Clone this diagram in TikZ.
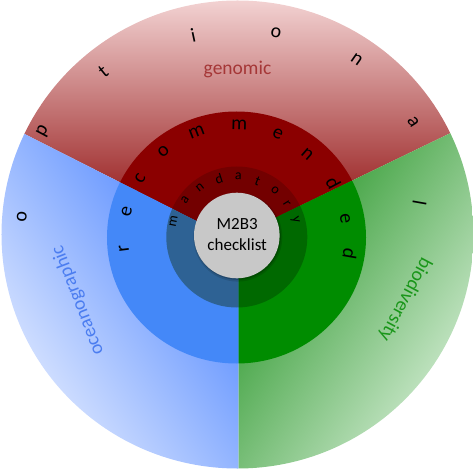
\documentclass[tikz,border=0pt]{standalone}
\usepackage{fontspec}
\setmainfont{Carlito}
\definecolor{redtop}{RGB}{245,215,215}
\definecolor{redbot}{RGB}{140,8,8}
\definecolor{bluelight}{RGB}{228,236,255}
\definecolor{bluedark}{RGB}{70,128,255}
\definecolor{greenlight}{RGB}{215,238,215}
\definecolor{greendark}{RGB}{30,145,30}
\definecolor{recred}{RGB}{139,0,0}
\definecolor{recblue}{RGB}{68,136,248}
\definecolor{recgreen}{RGB}{0,140,0}
\definecolor{manred}{RGB}{115,0,0}
\definecolor{manblue}{RGB}{46,98,148}
\definecolor{mangreen}{RGB}{0,105,0}
\definecolor{centergrey}{RGB}{200,200,200}
\definecolor{gentext}{RGB}{165,55,55}
\definecolor{oceantext}{RGB}{75,125,240}
\definecolor{biotext}{RGB}{25,150,25}
\begin{document}
\begin{tikzpicture}[x=1pt,y=1pt,
  optletter/.style={inner sep=0pt,font=\fontsize{20}{20}\selectfont},
  recletter/.style={inner sep=0pt,font=\fontsize{20}{20}\selectfont},
  manletter/.style={inner sep=0pt,font=\fontsize{14}{14}\selectfont},
  sectorlabel/.style={inner sep=0pt,font=\fontsize{19.5}{19.5}\selectfont},
  centerlabel/.style={inner sep=0pt,align=center,font=\fontsize{17}{21}\selectfont}]
\useasboundingbox (-237.5,-233.5) rectangle (235.5,234.5);
\coordinate (rbIn) at (-20,2.9);
\coordinate (rbOut) at (-240,114.2);
\coordinate (rgIn) at (20,8.2);
\coordinate (rgOut) at (240,114.5);
\coordinate (bgIn) at (1,-20);
\coordinate (bgOut) at (1,-240);
% outer ring (optional)
\begin{scope}
  \clip (0,0) ellipse (236pt and 234pt);
  \shade[top color=redtop,bottom color=redbot] (rbIn) -- (rgIn) -- (rgOut) -- (240,240) -- (-240,240) -- (rbOut) -- cycle;
  \shade[top color=bluelight,bottom color=bluedark,shading angle=124] (rbIn) -- (rbOut) -- (-240,-240) -- (bgOut) -- (bgIn) -- cycle;
  \shade[top color=greenlight,bottom color=greendark,shading angle=236] (rgIn) -- (rgOut) -- (240,-240) -- (bgOut) -- (bgIn) -- cycle;
\end{scope}
% recommended ring
\begin{scope}
  \clip (-1,-3) ellipse (129.5pt and 126pt);
  \fill[recred] (rbIn) -- (rgIn) -- (rgOut) -- (240,240) -- (-240,240) -- (rbOut) -- cycle;
  \fill[recblue] (rbIn) -- (rbOut) -- (-240,-240) -- (bgOut) -- (bgIn) -- cycle;
  \fill[recgreen] (rgIn) -- (rgOut) -- (240,-240) -- (bgOut) -- (bgIn) -- cycle;
\end{scope}
% mandatory ring
\begin{scope}
  \clip (-0.7,-2.5) circle (70.5pt);
  \fill[manred] (rbIn) -- (rgIn) -- (rgOut) -- (240,240) -- (-240,240) -- (rbOut) -- cycle;
  \fill[manblue] (rbIn) -- (rbOut) -- (-240,-240) -- (bgOut) -- (bgIn) -- cycle;
  \fill[mangreen] (rgIn) -- (rgOut) -- (240,-240) -- (bgOut) -- (bgIn) -- cycle;
\end{scope}
% centre
\fill[black,opacity=0.12] (0.3,-2.6) circle (44.5pt);
\fill[black,opacity=0.18] (0.1,-2.0) circle (43.3pt);
\fill[centergrey] (-0.7,-1) circle (42.8pt);
\node[centerlabel] (center) at (-0.3,-0.5) {M2B3\\checklist};
% sector labels
\node[sectorlabel,text=gentext,anchor=base] (genomic) at (0,160) {genomic};
\node[sectorlabel,text=oceantext,rotate=111] (ocean) at (-159.5,-66) {oceanographic};
\node[sectorlabel,text=biotext,rotate=-118] (bio) at (167.5,-65) {biodiversity};
% optional
\node[optletter,rotate=85] (o1) at (-215.8,17.8) {o};
\node[optletter,rotate=62] (o2) at (-194.2,102.8) {p};
\node[optletter,rotate=39] (o3) at (-134.2,162.8) {t};
\node[optletter,rotate=12] (o4) at (-44.2,199.5) {i};
\node[optletter,rotate=-11] (o5) at (38.5,201.2) {o};
\node[optletter,rotate=-35] (o6) at (119.2,174.5) {n};
\node[optletter,rotate=-57.5] (o7) at (175.8,112.8) {a};
\node[optletter,rotate=-100] (o8) at (182,32) {l};
% recommended
\node[recletter,rotate=97] (r1) at (-113.5,-13.8) {r};
\node[recletter,rotate=78] (r2) at (-110.8,22.8) {e};
\node[recletter,rotate=60] (r3) at (-97.5,56.2) {c};
\node[recletter,rotate=41.5] (r4) at (-74.2,82.8) {o};
\node[recletter,rotate=21] (r5) at (-40.8,102.8) {m};
\node[recletter,rotate=-1.5] (r6) at (1.8,109.5) {m};
\node[recletter,rotate=-22] (r7) at (40.2,100.5) {e};
\node[recletter,rotate=-41] (r8) at (69.8,80.5) {n};
\node[recletter,rotate=-62] (r9) at (95.8,51.8) {d};
\node[recletter,rotate=-81.5] (r10) at (107.5,16.2) {e};
\node[recletter,rotate=-100] (r11) at (112.5,-19.5) {d};
% mandatory
\node[manletter,rotate=78.5] (m1) at (-64.2,12.8) {m};
\node[manletter,rotate=56] (m2) at (-52.5,34.5) {a};
\node[manletter,rotate=38] (m3) at (-37.5,47.2) {n};
\node[manletter,rotate=17.5] (m4) at (-18.5,55.5) {d};
\node[manletter,rotate=-2] (m5) at (0.8,57.8) {a};
\node[manletter,rotate=-21.5] (m6) at (20.2,53.5) {t};
\node[manletter,rotate=-41] (m7) at (37.5,44.5) {o};
\node[manletter,rotate=-58] (m8) at (49.2,31.2) {r};
\node[manletter,rotate=-76] (m9) at (57.5,14.5) {y};
\end{tikzpicture}
\end{document}
